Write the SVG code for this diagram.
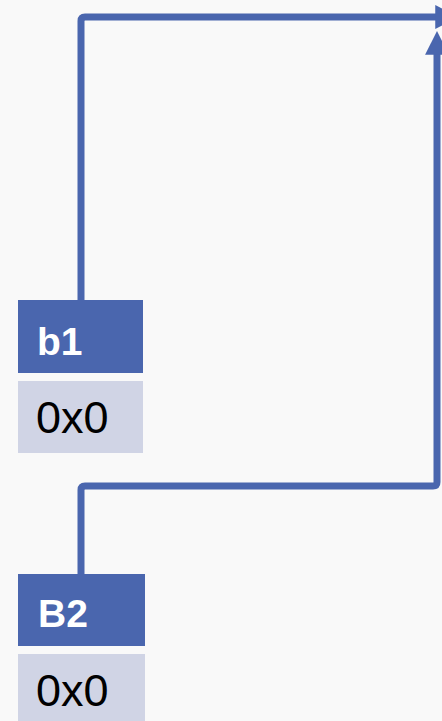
<svg xmlns="http://www.w3.org/2000/svg" width="442" height="721" viewBox="0 0 442 721">
<defs>
<style>
.hdr{fill:#4a66ae}
.val{fill:#d0d4e5}
.ht{font-family:"Liberation Sans",Arial,sans-serif;font-weight:bold;font-size:39px;fill:#ffffff}
.vt{font-family:"Liberation Sans",Arial,sans-serif;font-size:45px;fill:#000000}
.conn{fill:none;stroke:#4a66ae;stroke-width:7;stroke-linejoin:round}
</style>
<marker id="ah" viewBox="0 0 10 10" refX="2" refY="5" markerWidth="3.4" markerHeight="3.4" markerUnits="strokeWidth" orient="auto">
<path d="M0,0 L10,5 L0,10 z" fill="#4a66ae"/>
</marker>
</defs>
<rect width="442" height="721" fill="#f9f9f9"/>
<g id="connectors">
<path class="conn" d="M81,300 L81,21 Q81,17 85,17 L440,17" marker-end="url(#ah)"/>
<path class="conn" d="M81,574 L81,490 Q81,486 85,486 L433,486 Q437,486 437,482 L437,50" marker-end="url(#ah)"/>
</g>
<g id="b1">
<rect class="hdr" x="18" y="300" width="125" height="73"/>
<text class="ht" x="37" y="355">b1</text>
<rect class="val" x="18" y="381" width="125" height="72"/>
<text class="vt" x="36" y="433">0x0</text>
</g>
<g id="B2">
<rect class="hdr" x="18" y="574" width="127" height="72"/>
<text class="ht" x="38" y="627">B2</text>
<rect class="val" x="18" y="654" width="127" height="67"/>
<text class="vt" x="36" y="706">0x0</text>
</g>
</svg>
